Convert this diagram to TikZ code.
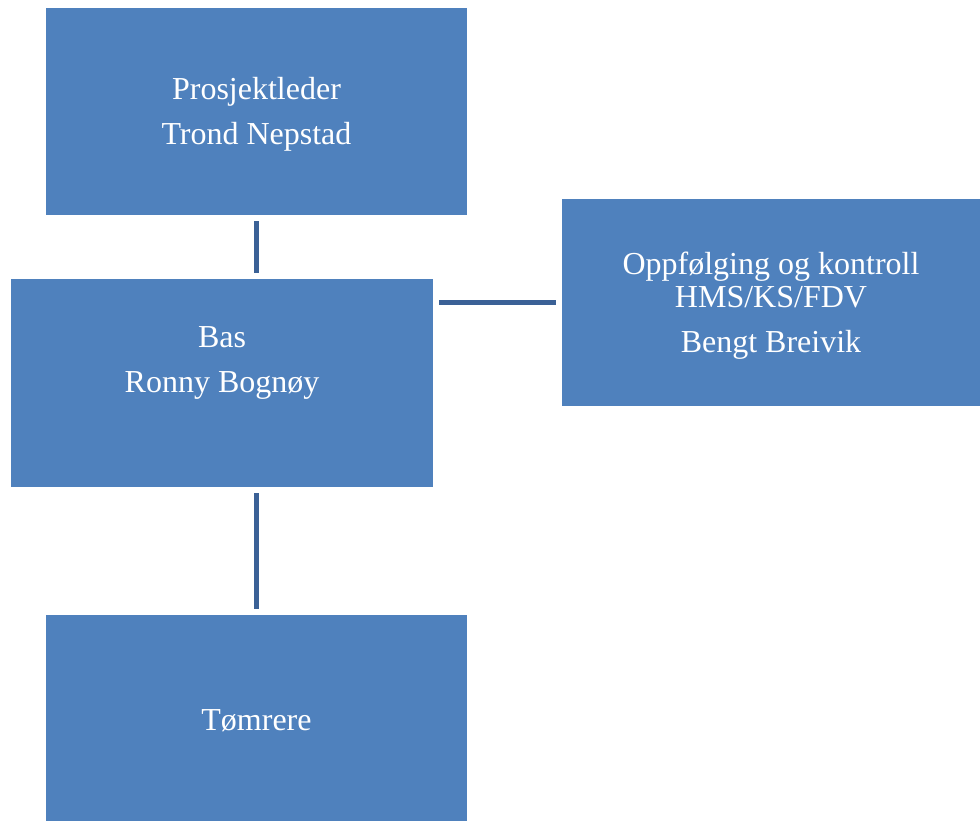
\documentclass[tikz,border=0pt]{standalone}
\usepackage{fontspec}
\setmainfont{Liberation Serif}
\usepackage{xcolor}
\usepackage{tikz}
\usetikzlibrary{positioning, calc}

\definecolor{boxblue}{HTML}{4F81BD}
\definecolor{lineblue}{HTML}{3B6196}

\begin{document}
\begin{tikzpicture}[
    x=1pt, y=-1pt,
    box/.style={rectangle, fill=boxblue, draw=none, inner sep=0pt,
      minimum width=421pt, minimum height=207pt},
    txt/.style={align=center, text=white, inner sep=0pt,
      font=\fontsize{32}{45}\selectfont},
    link/.style={draw=lineblue, line width=5pt, shorten >=6pt, shorten <=6pt}
]
\useasboundingbox (0,0) rectangle (980,820);

% boxes
\node (leder) [box] at (256.5,111.5) {};
\node (bas) [box, minimum width=422pt, minimum height=208pt] at (222,383) {};
\node (hms) [box, minimum width=418pt] at (771,302.5) {};
\node (tomrer) [box, minimum height=206pt] at (256.5,718) {};

% texts
\node (ledertxt) [txt] at ($(leder.center)+(0,3)$) {Prosjektleder\\Trond Nepstad};
\node (bastxt) [txt] at ($(bas.center)+(0,-20)$) {Bas\\Ronny Bognøy};
\node (hmstxt) [txt] at ($(hms.center)+(0,3)$) {Oppfølging og kontroll\\[-12pt]HMS/KS/FDV\\Bengt Breivik};
\node (tomrertxt) [txt] at ($(tomrer.center)+(0,3)$) {Tømrere};

\draw[link] (leder.south) -- (leder.south |- bas.north);
\draw[link] (hms.west -| bas.east) -- (hms.west);
\draw[link] (tomrer.north |- bas.south) -- (tomrer.north);
\end{tikzpicture}
\end{document}
